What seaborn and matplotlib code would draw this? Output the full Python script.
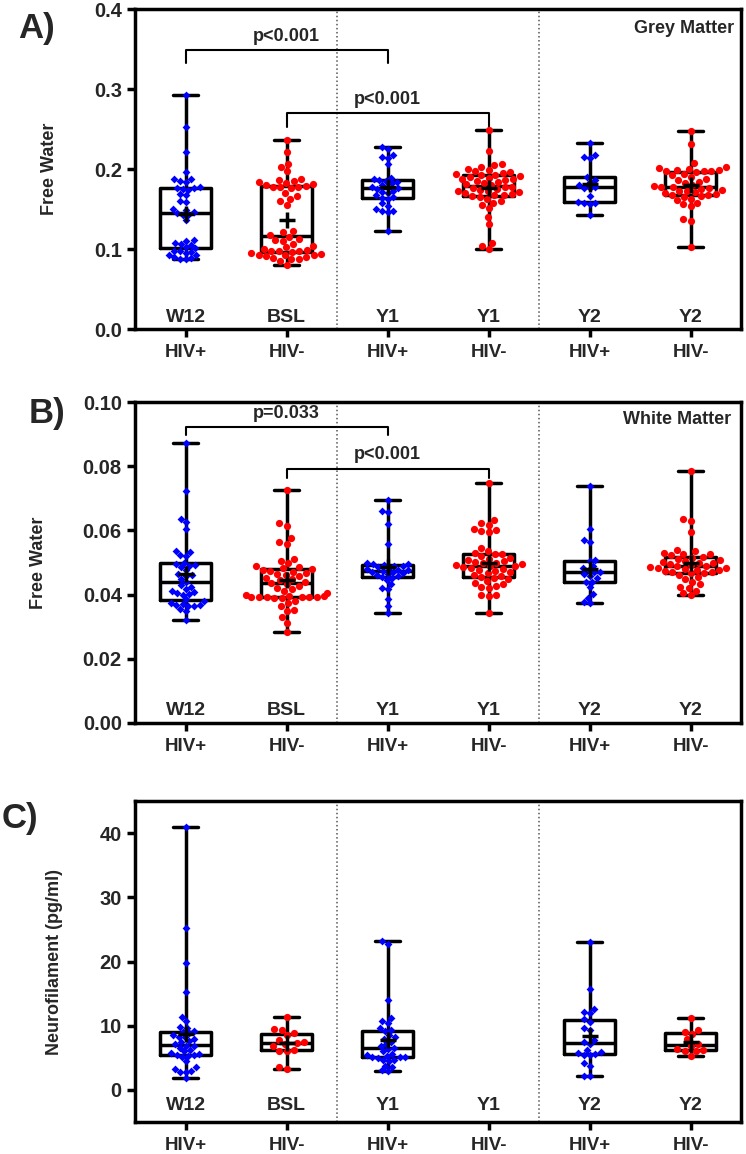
import pandas as pd
import seaborn as sns
import matplotlib.pyplot as plt
from matplotlib import transforms

groups = ['W12 HIV+', 'BSL HIV-', 'Y1 HIV+', 'Y1 HIV-', 'Y2 HIV+', 'Y2 HIV-']
time_labels = ['W12', 'BSL', 'Y1', 'Y1', 'Y2', 'Y2']
status_labels = ['HIV+', 'HIV-', 'HIV+', 'HIV-', 'HIV+', 'HIV-']

# A) grey matter free water
gm_w12_pos = [0.292, 0.252, 0.221, 0.196, 0.188, 0.187, 0.185, 0.184, 0.177, 0.176, 0.176, 0.175, 0.174,
              0.169, 0.168, 0.160, 0.159, 0.150, 0.149, 0.146, 0.145, 0.143, 0.142, 0.136, 0.111, 0.110,
              0.107, 0.106, 0.105, 0.102, 0.101, 0.098, 0.097, 0.096, 0.095, 0.093, 0.092, 0.090, 0.089,
              0.088, 0.087]
gm_bsl_neg = [0.236, 0.221, 0.206, 0.203, 0.197, 0.187, 0.186, 0.185, 0.184, 0.183, 0.181, 0.180, 0.179,
              0.178, 0.178, 0.177, 0.176, 0.170, 0.166, 0.163, 0.160, 0.155, 0.123, 0.121, 0.117, 0.115,
              0.112, 0.111, 0.110, 0.106, 0.104, 0.102, 0.100, 0.099, 0.098, 0.097, 0.097, 0.096, 0.095,
              0.094, 0.093, 0.092, 0.092, 0.091, 0.090, 0.089, 0.088, 0.087, 0.085, 0.080]
gm_y1_pos = [0.228, 0.225, 0.217, 0.215, 0.214, 0.206, 0.189, 0.187, 0.186, 0.185, 0.184, 0.182, 0.180,
             0.178, 0.177, 0.176, 0.175, 0.173, 0.171, 0.170, 0.167, 0.165, 0.164, 0.163, 0.157, 0.154,
             0.150, 0.148, 0.147, 0.146, 0.1225]
gm_y1_neg = [0.249, 0.222, 0.206, 0.205, 0.202, 0.200, 0.199, 0.197, 0.196, 0.195, 0.194, 0.193, 0.192,
             0.191, 0.190, 0.189, 0.188, 0.187, 0.186, 0.185, 0.184, 0.182, 0.181, 0.180, 0.178, 0.177,
             0.176, 0.175, 0.174, 0.173, 0.172, 0.171, 0.170, 0.169, 0.168, 0.167, 0.166, 0.165, 0.163,
             0.160, 0.158, 0.155, 0.151, 0.140, 0.131, 0.108, 0.104, 0.100]
gm_y2_pos = [0.232, 0.217, 0.215, 0.214, 0.190, 0.186, 0.184, 0.180, 0.177, 0.176, 0.176, 0.166, 0.159,
             0.158, 0.157, 0.156, 0.1425]
gm_y2_neg = [0.247, 0.231, 0.207, 0.203, 0.201, 0.200, 0.199, 0.199, 0.198, 0.198, 0.197, 0.196, 0.194,
             0.192, 0.190, 0.188, 0.186, 0.184, 0.182, 0.180, 0.179, 0.178, 0.177, 0.176, 0.175, 0.174,
             0.173, 0.172, 0.171, 0.170, 0.169, 0.168, 0.167, 0.166, 0.165, 0.163, 0.161, 0.158, 0.156,
             0.154, 0.137, 0.135, 0.102]

# B) white matter free water
wm_w12_pos = [0.0873, 0.0723, 0.0635, 0.0625, 0.0604, 0.0535, 0.0532, 0.0522, 0.0520, 0.0500, 0.0495,
              0.0492, 0.0490, 0.0485, 0.0476, 0.0465, 0.0460, 0.0458, 0.0450, 0.0440, 0.0430, 0.0425,
              0.0418, 0.0410, 0.0407, 0.0405, 0.0403, 0.0400, 0.0385, 0.0380, 0.0375, 0.0370, 0.0368,
              0.0367, 0.0366, 0.0365, 0.0355, 0.0350, 0.0320]
wm_bsl_neg = [0.0727, 0.0622, 0.0615, 0.0575, 0.0565, 0.0558, 0.0512, 0.0505, 0.0498, 0.0490, 0.0485,
              0.0482, 0.0480, 0.0478, 0.0475, 0.0472, 0.0468, 0.0465, 0.0462, 0.0458, 0.0452, 0.0448,
              0.0444, 0.0440, 0.0437, 0.0433, 0.0428, 0.0422, 0.0418, 0.0412, 0.0405, 0.0400, 0.0397,
              0.0395, 0.0394, 0.0393, 0.0393, 0.0392, 0.0392, 0.0391, 0.0390, 0.0389, 0.0380, 0.0375,
              0.0365, 0.0352, 0.0350, 0.0331, 0.0312, 0.0282]
wm_y1_pos = [0.0694, 0.0660, 0.0657, 0.0619, 0.0559, 0.0498, 0.0496, 0.0494, 0.0492, 0.0490, 0.0488,
             0.0485, 0.0482, 0.0480, 0.0478, 0.0476, 0.0474, 0.0472, 0.0470, 0.0467, 0.0465, 0.0462,
             0.0458, 0.0455, 0.0452, 0.0445, 0.0432, 0.0421, 0.0418, 0.0385, 0.0365, 0.0342]
wm_y1_neg = [0.0748, 0.0633, 0.0622, 0.0618, 0.0605, 0.0600, 0.0598, 0.0595, 0.0545, 0.0535, 0.0530,
             0.0528, 0.0525, 0.0520, 0.0515, 0.0512, 0.0508, 0.0505, 0.0502, 0.0500, 0.0497, 0.0494,
             0.0491, 0.0489, 0.0488, 0.0486, 0.0483, 0.0480, 0.0477, 0.0474, 0.0470, 0.0467, 0.0462,
             0.0458, 0.0455, 0.0452, 0.0448, 0.0442, 0.0436, 0.0432, 0.0428, 0.0425, 0.0420, 0.0400,
             0.0398, 0.0395, 0.0342]
wm_y2_pos = [0.0739, 0.0604, 0.0570, 0.0565, 0.0507, 0.0505, 0.0490, 0.0482, 0.0478, 0.0472, 0.0469,
             0.0465, 0.0458, 0.0452, 0.0440, 0.0438, 0.0425, 0.0402, 0.0390, 0.0378, 0.0373]
wm_y2_neg = [0.0785, 0.0636, 0.0628, 0.0596, 0.0540, 0.0535, 0.0530, 0.0527, 0.0525, 0.0522, 0.0518,
             0.0515, 0.0512, 0.0508, 0.0505, 0.0502, 0.0500, 0.0498, 0.0495, 0.0492, 0.0490, 0.0488,
             0.0486, 0.0484, 0.0482, 0.0480, 0.0478, 0.0476, 0.0474, 0.0472, 0.0470, 0.0468, 0.0466,
             0.0462, 0.0455, 0.0448, 0.0440, 0.0432, 0.0425, 0.0420, 0.0412, 0.0405, 0.0398]

# C) neurofilament (pg/ml), no Y1 HIV- samples
nfl_w12_pos = [41.0, 25.2, 19.8, 15.3, 11.4, 10.7, 9.8, 9.6, 9.2, 9.0, 8.8, 8.5, 8.3, 8.2, 8.0, 7.6, 7.4,
               7.1, 6.9, 6.8, 6.5, 6.2, 6.0, 5.8, 5.6, 5.5, 5.4, 5.3, 5.2, 4.5, 3.5, 3.3, 2.9, 2.8, 2.8, 1.9]
nfl_bsl_neg = [11.4, 9.5, 9.4, 8.9, 8.5, 7.8, 7.5, 7.25, 7.1, 6.8, 6.2, 6.1, 6.0, 3.5, 3.2]
nfl_y1_pos = [23.2, 22.8, 14.0, 11.2, 10.8, 10.5, 9.6, 9.4, 9.2, 8.5, 8.2, 8.0, 7.5, 7.2, 6.8, 6.6, 6.4,
              6.0, 5.6, 5.4, 5.3, 5.2, 5.2, 5.1, 5.0, 4.7, 4.6, 4.5, 3.8, 3.6, 3.1, 3.0]
nfl_y1_neg = []
nfl_y2_pos = [23.0, 15.7, 12.6, 12.2, 12.0, 11.0, 10.6, 9.7, 9.4, 7.7, 7.4, 7.2, 6.2, 5.9, 5.7, 5.6, 5.5,
              5.4, 4.2, 3.8, 2.1, 2.1]
nfl_y2_neg = [11.2, 9.4, 9.1, 8.7, 7.9, 7.2, 6.9, 6.3, 6.2, 6.1, 6.0, 5.3]


def to_frame(cols):
    rows = []
    for g, vals in zip(groups, cols):
        for v in vals:
            rows.append((g, g.split()[1], v))
    return pd.DataFrame(rows, columns=['group', 'status', 'value'])


sns.set_style('ticks')
plt.rcParams['font.family'] = ['Liberation Sans', 'DejaVu Sans']
plt.rcParams['font.weight'] = 'bold'
plt.rcParams['axes.labelweight'] = 'bold'

fig = plt.figure(figsize=(7.46, 11.54), dpi=100)


def draw_panel(rect, df, ylim, yticks, fmt, ylabel, label_y):
    ax = fig.add_axes(rect)
    sns.boxplot(data=df, x='group', y='value', order=groups, ax=ax, fill=False, color='black',
                linewidth=2.5, width=0.5, whis=(0, 100), showfliers=False, showmeans=True,
                meanprops=dict(marker='+', markersize=11, markeredgewidth=2.5,
                               markeredgecolor='black', markerfacecolor='black'))
    sns.swarmplot(data=df[df.status == 'HIV+'], x='group', y='value', order=groups, ax=ax,
                  color='#0000ff', marker='D', size=4, linewidth=0, zorder=3)
    sns.swarmplot(data=df[df.status == 'HIV-'], x='group', y='value', order=groups, ax=ax,
                  color='#ff0000', marker='o', size=5.2, linewidth=0, zorder=3)
    # keep the mean crosses visible above the points
    for ln in ax.lines:
        if ln.get_marker() == '+':
            ln.set_zorder(4)
    for xs in (1.5, 3.5):
        ax.axvline(xs, color='#555555', ls=':', lw=1.1, zorder=0)
    ax.set_xlim(-0.5, 5.5)
    ax.set_ylim(*ylim)
    ax.set_xticks(range(6))
    ax.set_xticklabels(status_labels, fontsize=13.5, fontweight='bold')
    ax.set_yticks(yticks)
    ax.set_yticklabels([fmt.format(t) for t in yticks], fontsize=14.5, fontweight='bold')
    ax.set_xlabel('')
    ax.set_ylabel(ylabel, fontsize=13, fontweight='bold', labelpad=26)
    ax.tick_params(direction='out', length=6, width=2.5, color='black')
    ax.tick_params(axis='x', pad=5)
    for sp in ax.spines.values():
        sp.set_visible(True)
        sp.set_linewidth(2.5)
        sp.set_color('black')
    trans = transforms.blended_transform_factory(ax.transData, ax.transAxes)
    for i, t in enumerate(time_labels):
        ax.text(i, label_y, t, transform=trans, ha='center', va='center', fontsize=14, fontweight='bold')
    return ax


def bracket(ax, x0, x1, y, drop, text, pad):
    ax.plot([x0, x0, x1, x1], [y - drop, y, y, y - drop], color='black', lw=1.5)
    ax.text((x0 + x1) / 2, y + pad, text, ha='center', va='bottom', fontsize=13, fontweight='bold')


gm = to_frame([gm_w12_pos, gm_bsl_neg, gm_y1_pos, gm_y1_neg, gm_y2_pos, gm_y2_neg])
wm = to_frame([wm_w12_pos, wm_bsl_neg, wm_y1_pos, wm_y1_neg, wm_y2_pos, wm_y2_neg])
nfl = to_frame([nfl_w12_pos, nfl_bsl_neg, nfl_y1_pos, nfl_y1_neg, nfl_y2_pos, nfl_y2_neg])

axA = draw_panel([0.181, 0.7149, 0.8123, 0.2773], gm, (0, 0.4), [0, 0.1, 0.2, 0.3, 0.4], '{:.1f}',
                 'Free Water', 0.035)
bracket(axA, 0, 2, 0.349, 0.017, 'p<0.001', 0.006)
bracket(axA, 1, 3, 0.270, 0.018, 'p<0.001', 0.006)
axA.text(0.988, 0.94, 'Grey Matter', transform=axA.transAxes, ha='right', va='center',
         fontsize=13, fontweight='bold')

axB = draw_panel([0.181, 0.3735, 0.8123, 0.2781], wm, (0, 0.1), [0, 0.02, 0.04, 0.06, 0.08, 0.10],
                 '{:.2f}', 'Free Water', 0.04)
bracket(axB, 0, 2, 0.0921, 0.0024, 'p=0.033', 0.0017)
bracket(axB, 1, 3, 0.0790, 0.0028, 'p<0.001', 0.0020)
axB.text(0.983, 0.947, 'White Matter', transform=axB.transAxes, ha='right', va='center',
         fontsize=13, fontweight='bold')

axC = draw_panel([0.181, 0.0277, 0.8123, 0.2782], nfl, (-5, 45), [0, 10, 20, 30, 40], '{:.0f}',
                 'Neurofilament (pg/ml)', 0.05)

for letter, px, py in [('A)', 18, 12), ('B)', 29, 397), ('C)', 2, 802)]:
    fig.text(px / 746, 1 - py / 1154, letter, ha='left', va='top', fontsize=25, fontweight='bold')

fig.savefig('out.png', dpi=100)
